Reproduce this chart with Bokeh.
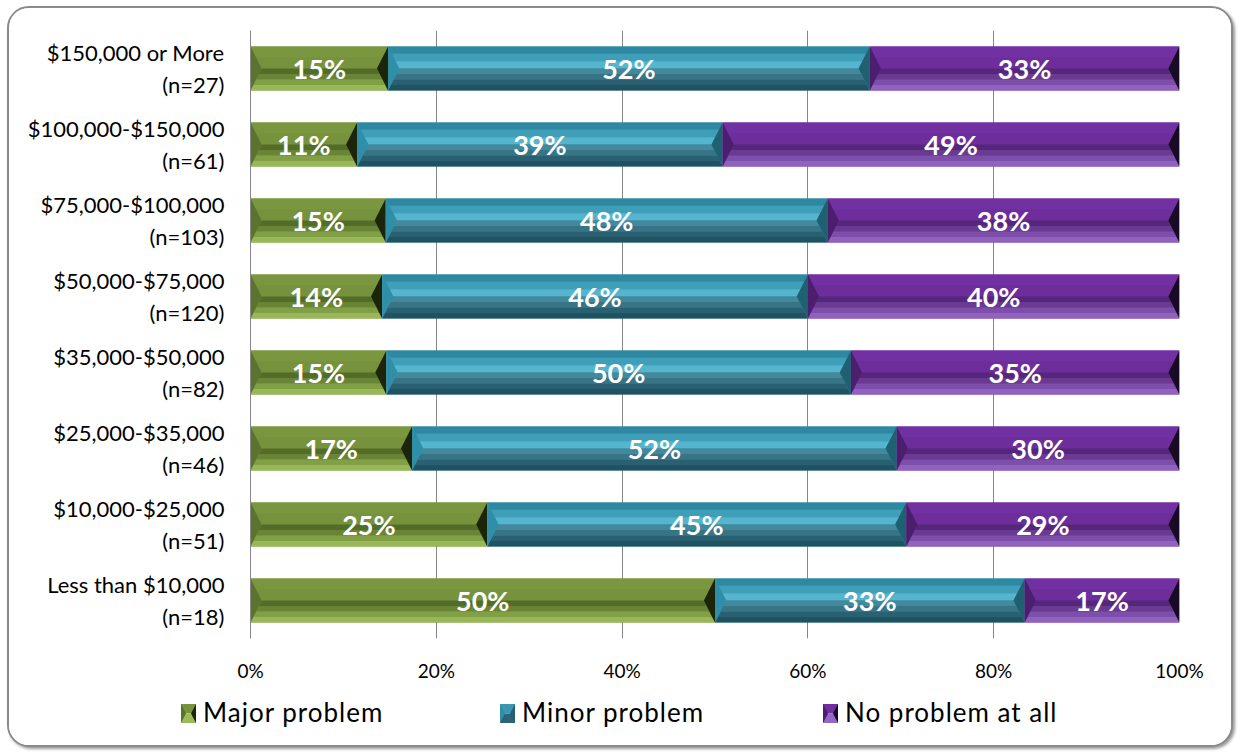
from bokeh.plotting import figure
from bokeh.layouts import column
from bokeh.models import ColumnDataSource, Range1d, FixedTicker, Div
from bokeh.core.properties import value
from bokeh.embed import file_html
from bokeh.resources import INLINE

# ---------------- data ----------------
categories = ["$150,000 or More\n(n=27)", "$100,000-$150,000\n(n=61)",
              "$75,000-$100,000\n(n=103)", "$50,000-$75,000\n(n=120)",
              "$35,000-$50,000\n(n=82)", "$25,000-$35,000\n(n=46)",
              "$10,000-$25,000\n(n=51)", "Less than $10,000\n(n=18)"]
major = [14.81, 11.48, 14.56, 14.17, 14.63, 17.39, 25.49, 50.00]
minor = [51.85, 39.34, 47.57, 45.83, 50.00, 52.17, 45.10, 33.33]
none_ = [33.33, 49.18, 37.86, 40.00, 35.37, 30.43, 29.41, 16.67]
series_names = ["Major problem", "Minor problem", "No problem at all"]
x_ticks = [0, 20, 40, 60, 80, 100]

# ---------------- style ----------------
styles = {
    "Major problem": dict(base="#77933C", top=["#7A963F", "#76923C"],
                          bottom=["#536C29", "#698434", "#819F45", "#98B757"],
                          left="#5C7330", right="#1C2409", light="#9BBB59"),
    "Minor problem": dict(base="#3A97B0", top=["#2F88A1", "#3F9FB9", "#55B4CE"],
                          bottom=["#43889B", "#367486", "#2A6172", "#215260"],
                          left="#2F8EA8", right="#1F6171", light="#2B6474"),
    "No problem at all": dict(base="#7030A0", top=["#7231A2", "#6D2E9C"],
                              bottom=["#55277A", "#6A3992", "#7E4FAA", "#9061BE"],
                              left="#4B1F6D", right="#190A25", light="#9466C6"),
}
legend_left_px = [172, 491, 814]

n = len(categories)
ys = [n - 1 - i for i in range(n)]
H = 0.29      # half bar height (category units)
B = 1.2       # bevel width (x units)
W = 1222

p = figure(width=W, height=682, output_backend="svg", toolbar_location=None,
           x_range=Range1d(0, 100), y_range=Range1d(-0.5, n - 0.5),
           min_border_left=241, min_border_right=52, min_border_top=22,
           min_border_bottom=52)
p.background_fill_color = "white"
p.border_fill_color = "white"
p.outline_line_color = None

p.ygrid.grid_line_color = None
p.xgrid.grid_line_color = "#868686"
p.xgrid.grid_line_width = 1
p.xgrid.ticker = FixedTicker(ticks=x_ticks)

lefts = [0.0] * n
for name, vals in zip(series_names, [major, minor, none_]):
    st = styles[name]
    l = list(lefts)
    r = [a + v for a, v in zip(l, vals)]
    src = ColumnDataSource(dict(y=ys, left=l, right=r))
    p.hbar(y="y", left="left", right="right", height=2 * H, source=src,
           fill_color=st["base"], line_color=None)

    pxs, pys, pcs = [], [], []
    for y0, x0, x1 in zip(ys, l, r):
        top, bot = y0 + H, y0 - H
        k = len(st["top"])
        for j, c in enumerate(st["top"]):
            ya = top - H * j / k
            yb = top - H * (j + 1) / k
            da = B * (top - ya) / H
            db = B * (top - yb) / H
            pxs.append([x0 + da, x1 - da, x1 - db, x0 + db])
            pys.append([ya, ya, yb, yb])
            pcs.append(c)
        k = len(st["bottom"])
        for j, c in enumerate(st["bottom"]):
            ya = y0 - H * j / k
            yb = y0 - H * (j + 1) / k
            da = B * (ya - bot) / H
            db = B * (yb - bot) / H
            pxs.append([x0 + da, x1 - da, x1 - db, x0 + db])
            pys.append([ya, ya, yb, yb])
            pcs.append(c)
        pxs.append([x0, x0 + B, x0]); pys.append([top, y0, bot]); pcs.append(st["left"])
        pxs.append([x1, x1 - B, x1]); pys.append([top, y0, bot]); pcs.append(st["right"])
    p.patches(xs="xs", ys="ys", fill_color="c", line_color=None,
              source=ColumnDataSource(dict(xs=pxs, ys=pys, c=pcs)))

    mids = [(a + b) / 2 for a, b in zip(l, r)]
    txt = [f"{int(v + 0.5)}%" for v in vals]
    p.text(x=mids, y=ys, text=txt, text_color="white", text_font=value("Lato"),
           text_font_style="bold", text_font_size="27px", text_align="center",
           text_baseline="middle")
    lefts = r

# axes
p.xaxis.ticker = FixedTicker(ticks=x_ticks)
p.xaxis.major_label_overrides = {t: f"{t}%" for t in x_ticks}
p.xaxis.axis_line_color = None
p.xaxis.major_tick_line_color = None
p.xaxis.minor_tick_line_color = None
p.xaxis.major_label_text_font = "Lato"
p.xaxis.major_label_text_font_size = "19px"
p.xaxis.major_label_text_color = "#000000"
p.xaxis.major_label_standoff = 14

p.yaxis.ticker = FixedTicker(ticks=ys)
p.yaxis.major_label_overrides = {y: c for y, c in zip(ys, categories)}
p.yaxis.axis_line_color = "#868686"
p.yaxis.major_tick_line_color = None
p.yaxis.minor_tick_line_color = None
p.yaxis.major_label_text_font = "Lato"
p.yaxis.major_label_text_font_size = "22px"
p.yaxis.major_label_text_color = "#000000"
p.yaxis.major_label_text_align = "center"
p.yaxis.major_label_standoff = 20

# legend strip (HTML, below the chart)
items_html = []
for name, lx in zip(series_names, legend_left_px):
    st = styles[name]
    svg = (f'<svg width="15" height="19" viewBox="0 0 15 19">'
           f'<rect x="0" y="0" width="15" height="9.5" fill="{st["base"]}"/>'
           f'<rect x="0" y="9.5" width="15" height="9.5" fill="{st["light"]}"/>'
           f'<polygon points="0,0 5,9.5 0,19" fill="{st["left"]}"/>'
           f'<polygon points="15,0 10,9.5 15,19" fill="{st["right"]}"/></svg>')
    items_html.append(
        f'<div style="position:absolute;left:{lx}px;top:0;height:46px;display:flex;'
        f'align-items:center;gap:7px;white-space:nowrap;font-family:Lato;'
        f'font-size:26px;letter-spacing:1px;color:#000;">{svg}<span>{name}</span></div>')
legend_div = Div(text='<div style="position:relative;width:%dpx;height:55px;">%s</div>'
                 % (W, "".join(items_html)), width=W, height=55,
                 styles={"background-color": "white", "margin": "0"})

layout = column(p, legend_div, spacing=0,
                styles={"border": "2px solid #8a8a8a", "border-radius": "22px",
                        "overflow": "hidden", "box-shadow": "2px 2px 3px #9a9a9a",
                        "margin-left": "7px", "margin-top": "6px",
                        "background-color": "white"})

open("out.html", "w").write(file_html(layout, INLINE))
